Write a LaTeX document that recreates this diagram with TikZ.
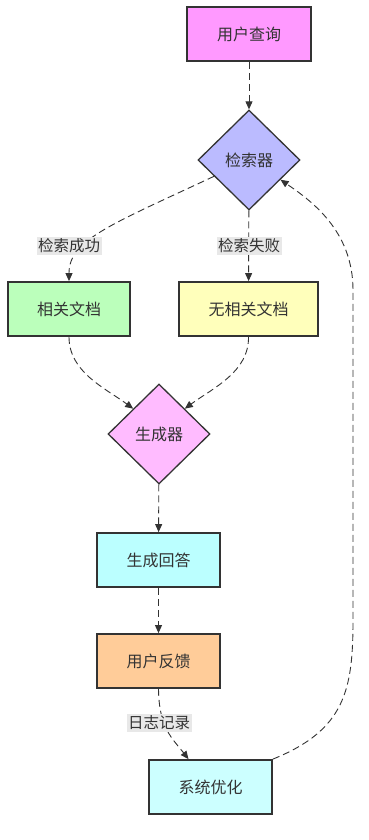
\documentclass[tikz,border=0pt]{standalone}
\usepackage{fontspec}
\setmainfont{Noto Sans CJK SC}
\usetikzlibrary{arrows.meta,shapes.geometric}
\definecolor{ink}{HTML}{333333}
\definecolor{cquery}{HTML}{FF99FF}
\definecolor{cretr}{HTML}{BBBBFF}
\definecolor{cdoc}{HTML}{BBFFBB}
\definecolor{cnodoc}{HTML}{FFFFBB}
\definecolor{cgen}{HTML}{FFBBFF}
\definecolor{cans}{HTML}{BBFFFF}
\definecolor{cfeed}{HTML}{FFCC99}
\definecolor{copt}{HTML}{CCFFFF}
\definecolor{clbl}{HTML}{E8E8E8}

\begin{document}
\begin{tikzpicture}[x=1pt,y=-1pt,
    box/.style={draw=ink,line width=1.8pt,minimum height=54pt,inner sep=0pt,
      text=ink,font=\fontsize{16}{19}\selectfont},
    decision/.style={diamond,aspect=1,draw=ink,line width=1.3pt,minimum width=102pt,
      minimum height=100pt,inner sep=0pt,text=ink,font=\fontsize{16}{19}\selectfont},
    flow/.style={draw=ink,line width=0.9pt,dash pattern=on 7pt off 4pt,
      -{Triangle[length=8pt,width=7pt]}},
    lbl/.style={fill=clbl,text=ink,inner sep=1.5pt,font=\fontsize{15.5}{18}\selectfont}]
  \useasboundingbox (0,0) rectangle (368,840);
  % nodes
  \node[box,fill=cquery,minimum width=124pt] (yhcx) at (249,34) {用户查询};
  \node[decision,fill=cretr] (jsq) at (249,160) {检索器};
  \node[box,fill=cdoc,minimum width=122pt] (xgwd) at (69,309) {相关文档};
  \node[box,fill=cnodoc,minimum width=139pt] (wxg) at (248.5,309) {无相关文档};
  \node[decision,fill=cgen] (scq) at (159,434) {生成器};
  \node[box,fill=cans,minimum width=123pt] (schd) at (158.5,560) {生成回答};
  \node[box,fill=cfeed,minimum width=123pt] (yhfk) at (158.5,661) {用户反馈};
  \node[box,fill=copt,minimum width=123pt] (xtyh) at (210.5,787) {系统优化};
  % connectors
  \draw[flow] (yhcx) -- (jsq);
  \draw[flow] (jsq.205) .. controls (110,225) and (69,240) .. (xgwd.north);
  \draw[flow] (jsq) -- (wxg);
  \draw[flow] (xgwd.south) .. controls (69,372) and (105,388) .. (scq.north west);
  \draw[flow] (wxg.south) .. controls (249,372) and (213,388) .. (scq.north east);
  \draw[flow] (scq) -- (schd);
  \draw[flow] (schd) -- (yhfk);
  \draw[flow] (yhfk.south) .. controls (159,728) and (172,738) .. ([xshift=-22pt]xtyh.north);
  \draw[flow] (xtyh.north east) .. controls (345,730) and (353,690) .. (353,620)
    -- (353,290) .. controls (353,230) and (310,200) .. (jsq.-32);
  % labels
  \node[lbl] (l1) at (69,246) {检索成功};
  \node[lbl] (l2) at (249,246) {检索失败};
  \node[lbl] (l3) at (159,723) {日志记录};
\end{tikzpicture}
\end{document}
